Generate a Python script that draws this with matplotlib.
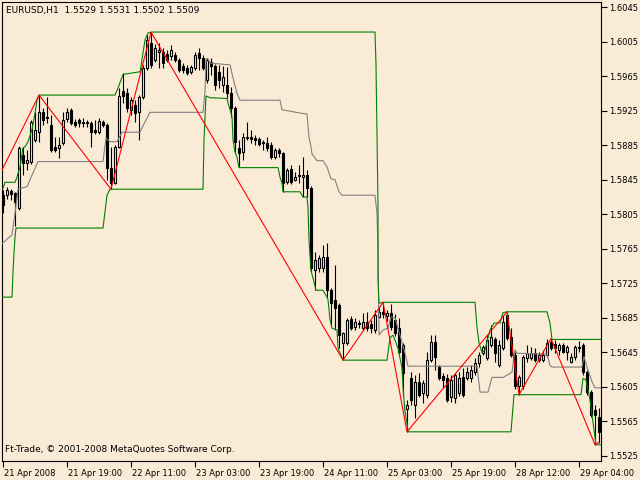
import matplotlib
matplotlib.use('Agg')
import matplotlib.pyplot as plt
import matplotlib.transforms as mtransforms

# EURUSD H1 - bougies (index de barre = position)
opens = [1.5827, 1.5827, 1.5832, 1.5830, 1.5812, 1.5874, 1.5864, 1.5865, 1.5891, 1.5900,
         1.5923, 1.5918, 1.5908, 1.5883, 1.5882, 1.5887, 1.5915, 1.5926, 1.5912, 1.5914,
         1.5911, 1.5911, 1.5911, 1.5903, 1.5900, 1.5912, 1.5908, 1.5859, 1.5841, 1.5883,
         1.5948, 1.5945, 1.5926, 1.5932, 1.5923, 1.5941, 1.5974, 1.6003, 1.5984, 1.5993,
         1.5993, 1.5991, 1.5988, 1.5989, 1.5984, 1.5977, 1.5974, 1.5970, 1.5974, 1.5992,
         1.5986, 1.5960, 1.5981, 1.5977, 1.5970, 1.5955, 1.5955, 1.5945, 1.5928, 1.5882,
         1.5877, 1.5893, 1.5894, 1.5893, 1.5892, 1.5889, 1.5887, 1.5885, 1.5871, 1.5879,
         1.5876, 1.5842, 1.5857, 1.5845, 1.5850, 1.5848, 1.5850, 1.5835, 1.5740, 1.5743,
         1.5743, 1.5755, 1.5717, 1.5706, 1.5700, 1.5656, 1.5656, 1.5684, 1.5674, 1.5679,
         1.5673, 1.5680, 1.5678, 1.5671, 1.5686, 1.5692, 1.5687, 1.5691, 1.5683, 1.5673,
         1.5654, 1.5579, 1.5615, 1.5584, 1.5611, 1.5598, 1.5596, 1.5636, 1.5657, 1.5628,
         1.5618, 1.5615, 1.5593, 1.5592, 1.5598, 1.5616, 1.5615, 1.5615, 1.5622, 1.5633,
         1.5644, 1.5639, 1.5654, 1.5660, 1.5630, 1.5650, 1.5688, 1.5663, 1.5642, 1.5606,
         1.5606, 1.5639, 1.5639, 1.5644, 1.5636, 1.5636, 1.5642, 1.5657, 1.5655, 1.5648,
         1.5654, 1.5646, 1.5634, 1.5640, 1.5650, 1.5654, 1.5622, 1.5599, 1.5578, 1.5570]
highs = [1.5833, 1.5837, 1.5834, 1.5831, 1.5884, 1.5883, 1.5879, 1.5914, 1.5923, 1.5943,
         1.5928, 1.5941, 1.5920, 1.5894, 1.5894, 1.5923, 1.5928, 1.5928, 1.5915, 1.5916,
         1.5916, 1.5914, 1.5913, 1.5914, 1.5916, 1.5914, 1.5911, 1.5883, 1.5885, 1.5951,
         1.5968, 1.5951, 1.5941, 1.5937, 1.5943, 1.5978, 1.6013, 1.6016, 1.6002, 1.6003,
         1.5998, 1.5995, 1.6001, 1.5993, 1.5986, 1.5980, 1.5978, 1.5978, 1.5993, 1.5998,
         1.5989, 1.5986, 1.5986, 1.5979, 1.5978, 1.5977, 1.5976, 1.5952, 1.5930, 1.5891,
         1.5899, 1.5912, 1.5903, 1.5897, 1.5894, 1.5891, 1.5894, 1.5889, 1.5882, 1.5882,
         1.5877, 1.5859, 1.5862, 1.5854, 1.5862, 1.5871, 1.5856, 1.5838, 1.5761, 1.5758,
         1.5769, 1.5772, 1.5720, 1.5746, 1.5702, 1.5669, 1.5685, 1.5687, 1.5685, 1.5683,
         1.5691, 1.5692, 1.5683, 1.5694, 1.5699, 1.5703, 1.5694, 1.5701, 1.5689, 1.5685,
         1.5656, 1.5590, 1.5622, 1.5619, 1.5621, 1.5613, 1.5646, 1.5665, 1.5665, 1.5630,
         1.5621, 1.5620, 1.5619, 1.5621, 1.5622, 1.5627, 1.5628, 1.5630, 1.5639, 1.5646,
         1.5654, 1.5665, 1.5677, 1.5663, 1.5659, 1.5688, 1.5692, 1.5673, 1.5646, 1.5619,
         1.5642, 1.5654, 1.5651, 1.5650, 1.5646, 1.5648, 1.5660, 1.5661, 1.5659, 1.5656,
         1.5656, 1.5654, 1.5644, 1.5654, 1.5658, 1.5656, 1.5625, 1.5602, 1.5584, 1.5581]
lows = [1.5806, 1.5823, 1.5821, 1.5791, 1.5810, 1.5850, 1.5856, 1.5863, 1.5889, 1.5889,
        1.5908, 1.5911, 1.5877, 1.5877, 1.5870, 1.5885, 1.5912, 1.5908, 1.5906, 1.5906,
        1.5906, 1.5906, 1.5883, 1.5898, 1.5898, 1.5906, 1.5845, 1.5834, 1.5840, 1.5882,
        1.5934, 1.5923, 1.5920, 1.5912, 1.5891, 1.5938, 1.5972, 1.5974, 1.5981, 1.5974,
        1.5974, 1.5981, 1.5984, 1.5981, 1.5970, 1.5968, 1.5966, 1.5967, 1.5972, 1.5972,
        1.5972, 1.5957, 1.5966, 1.5949, 1.5951, 1.5947, 1.5940, 1.5918, 1.5877, 1.5860,
        1.5868, 1.5891, 1.5887, 1.5885, 1.5884, 1.5879, 1.5878, 1.5869, 1.5869, 1.5871,
        1.5831, 1.5840, 1.5840, 1.5843, 1.5841, 1.5825, 1.5825, 1.5738, 1.5717, 1.5738,
        1.5738, 1.5709, 1.5677, 1.5671, 1.5650, 1.5636, 1.5654, 1.5671, 1.5671, 1.5673,
        1.5671, 1.5670, 1.5668, 1.5668, 1.5685, 1.5685, 1.5681, 1.5671, 1.5664, 1.5643,
        1.5596, 1.5553, 1.5584, 1.5569, 1.5593, 1.5586, 1.5592, 1.5634, 1.5625, 1.5613,
        1.5604, 1.5588, 1.5588, 1.5586, 1.5594, 1.5593, 1.5613, 1.5611, 1.5619, 1.5628,
        1.5642, 1.5636, 1.5651, 1.5634, 1.5628, 1.5648, 1.5659, 1.5640, 1.5603, 1.5596,
        1.5603, 1.5634, 1.5636, 1.5634, 1.5634, 1.5634, 1.5640, 1.5648, 1.5644, 1.5642,
        1.5644, 1.5636, 1.5633, 1.5636, 1.5646, 1.5619, 1.5596, 1.5570, 1.5538, 1.5540]
closes = [1.5816, 1.5833, 1.5828, 1.5819, 1.5882, 1.5864, 1.5868, 1.5912, 1.5903, 1.5923,
          1.5914, 1.5916, 1.5879, 1.5879, 1.5885, 1.5914, 1.5923, 1.5911, 1.5908, 1.5911,
          1.5912, 1.5912, 1.5900, 1.5900, 1.5913, 1.5908, 1.5859, 1.5841, 1.5883, 1.5942,
          1.5942, 1.5928, 1.5937, 1.5922, 1.5941, 1.5974, 1.6007, 1.5978, 1.5998, 1.5995,
          1.5980, 1.5984, 1.5995, 1.5984, 1.5972, 1.5972, 1.5968, 1.5976, 1.5989, 1.5986,
          1.5974, 1.5984, 1.5977, 1.5955, 1.5960, 1.5964, 1.5945, 1.5928, 1.5889, 1.5876,
          1.5894, 1.5894, 1.5892, 1.5891, 1.5886, 1.5887, 1.5882, 1.5871, 1.5879, 1.5876,
          1.5841, 1.5856, 1.5842, 1.5848, 1.5849, 1.5850, 1.5835, 1.5743, 1.5752, 1.5754,
          1.5755, 1.5717, 1.5702, 1.5696, 1.5665, 1.5667, 1.5683, 1.5673, 1.5680, 1.5678,
          1.5680, 1.5673, 1.5673, 1.5688, 1.5692, 1.5689, 1.5691, 1.5674, 1.5668, 1.5645,
          1.5621, 1.5584, 1.5590, 1.5611, 1.5596, 1.5610, 1.5636, 1.5657, 1.5640, 1.5615,
          1.5613, 1.5590, 1.5613, 1.5619, 1.5615, 1.5596, 1.5622, 1.5625, 1.5633, 1.5642,
          1.5651, 1.5659, 1.5663, 1.5644, 1.5654, 1.5680, 1.5662, 1.5642, 1.5606, 1.5616,
          1.5640, 1.5644, 1.5644, 1.5636, 1.5642, 1.5642, 1.5656, 1.5650, 1.5650, 1.5654,
          1.5646, 1.5651, 1.5640, 1.5651, 1.5651, 1.5622, 1.5599, 1.5573, 1.5573, 1.5553]

# ZigZag (rouge)
zz_bars = [-1, 9, 27, 37, 85, 95, 101, 126, 129, 137, 148, 149]
zz_prices = [1.5849, 1.5943, 1.5834, 1.6016, 1.5636, 1.5703, 1.5553, 1.5692, 1.5596, 1.5661, 1.5538, 1.5541]

# ligne verte haute
up_bars = [-0.75, 0, 0.5, 3, 3.5, 4.25, 5, 5.5, 6.25, 7.25, 8, 8.5, 9, 28, 28.75, 30, 34.25, 34.75,
           35.5, 36.25, 37.25, 93, 93.25, 93.5, 93.75, 93.75, 94, 95, 118, 118.5, 119, 119.75, 120.5,
           121.75, 122.75, 124.25, 125, 126, 136, 136.75, 137.25, 149.5]
up_prices = [1.5835, 1.5835, 1.5842, 1.5842, 1.5848, 1.5860, 1.5882, 1.5883, 1.5889, 1.5903, 1.5922,
             1.5937, 1.5943, 1.5943, 1.5951, 1.5967, 1.5970, 1.5984, 1.6007, 1.6015, 1.6016, 1.6016,
             1.5978, 1.5897, 1.5816, 1.5729, 1.5702, 1.5703, 1.5703, 1.5674, 1.5656, 1.5645, 1.5648,
             1.5671, 1.5679, 1.5679, 1.5691, 1.5692, 1.5692, 1.5679, 1.5660, 1.5660]

# ligne verte basse
lo_bars = [-0.75, 2.25, 2.5, 2.75, 3, 3.25, 25, 25.5, 26, 26.75, 50, 50.25, 50.75, 51.75, 56, 56.25,
           57.25, 57.5, 58, 58.5, 59, 68.75, 69.25, 69.75, 70, 74.25, 75, 76, 76.25, 76.5, 77, 78.25,
           80, 81, 81.25, 81.75, 82.25, 83.5, 83.75, 85, 96, 96.75, 97.5, 98, 98.75, 99.75, 100,
           100.5, 101, 101.25, 127, 127.75, 144.5, 145, 145.75, 146.75, 147.5, 148.25, 149.5]
lo_prices = [1.5709, 1.5709, 1.5738, 1.5760, 1.5778, 1.5789, 1.5789, 1.5808, 1.5827, 1.5834, 1.5834,
             1.5891, 1.5942, 1.5940, 1.5939, 1.5934, 1.5918, 1.5891, 1.5877, 1.5871, 1.5859, 1.5859,
             1.5848, 1.5841, 1.5831, 1.5831, 1.5825, 1.5825, 1.5813, 1.5775, 1.5740, 1.5717, 1.5717,
             1.5709, 1.5706, 1.5683, 1.5673, 1.5671, 1.5650, 1.5636, 1.5636, 1.5662, 1.5665, 1.5659,
             1.5650, 1.5627, 1.5604, 1.5576, 1.5563, 1.5553, 1.5553, 1.5596, 1.5596, 1.5615, 1.5613,
             1.5590, 1.5564, 1.5538, 1.5538]

# ligne grise
gr_bars = [-0.75, -0.25, 2.25, 3, 3.75, 6, 8.75, 25, 25.75, 26.75, 28.5, 29.75, 34.25, 35.5, 36.75,
           50, 50.5, 50.75, 51.25, 51.75, 56.75, 57.5, 58.5, 59.25, 69.25, 69.75, 74.5, 76, 76.5, 77,
           77.25, 78.5, 80, 81, 82, 83, 84, 84.75, 93, 93.5, 93.75, 94, 95, 96.25, 97, 98, 98.75,
           100.5, 101.25, 118.5, 119.25, 121.25, 122.25, 125, 127.25, 128, 128.5, 136, 136.75, 137.25,
           144.75, 145.25, 146, 147.25, 148, 149.5]
gr_prices = [1.5771, 1.5771, 1.5781, 1.5806, 1.5834, 1.5837, 1.5866, 1.5866, 1.5893, 1.5889, 1.5889,
             1.5900, 1.5900, 1.5912, 1.5923, 1.5923, 1.5947, 1.5985, 1.5985, 1.5980, 1.5978, 1.5963,
             1.5945, 1.5937, 1.5937, 1.5926, 1.5922, 1.5921, 1.5894, 1.5883, 1.5875, 1.5867, 1.5867,
             1.5860, 1.5846, 1.5845, 1.5831, 1.5827, 1.5827, 1.5806, 1.5767, 1.5665, 1.5671, 1.5673,
             1.5686, 1.5685, 1.5673, 1.5644, 1.5629, 1.5629, 1.5599, 1.5599, 1.5616, 1.5616, 1.5622,
             1.5648, 1.5644, 1.5643, 1.5630, 1.5628, 1.5628, 1.5640, 1.5628, 1.5611, 1.5604, 1.5604]

# axes
date_ticks = [0, 16, 32, 48, 64, 80, 96, 112, 128, 144]
date_labels = ['21 Apr 2008', '21 Apr 19:00', '22 Apr 11:00', '23 Apr 03:00', '23 Apr 19:00',
               '24 Apr 11:00', '25 Apr 03:00', '25 Apr 19:00', '28 Apr 12:00', '29 Apr 04:00']
price_ticks = [1.5525, 1.5565, 1.5605, 1.5645, 1.5685, 1.5725, 1.5765, 1.5805, 1.5845,
               1.5885, 1.5925, 1.5965, 1.6005, 1.6045]

bg = '#FAEBD7'
fig = plt.figure(figsize=(6.4, 4.8), dpi=100, facecolor=bg)
ax = fig.add_axes([2 / 640, 19 / 480, 599 / 640, 459 / 480], facecolor=bg)

x = list(range(len(opens)))

# mèches
ax.vlines(x, lows, highs, color='black', lw=0.8, zorder=2)

# corps
bottoms = [min(o, c) for o, c in zip(opens, closes)]
heights = [abs(c - o) for o, c in zip(opens, closes)]
faces = [bg if c >= o else 'black' for o, c in zip(opens, closes)]
ax.bar(x, heights, bottom=bottoms, width=0.6, color=faces, edgecolor='black', linewidth=0.8, zorder=3)

# indicateurs
ax.plot(gr_bars, gr_prices, color='#808080', lw=0.8, zorder=4)
ax.plot(up_bars, up_prices, color='#008000', lw=0.8, zorder=5)
ax.plot(lo_bars, lo_prices, color='#008000', lw=0.8, zorder=5)
ax.plot(zz_bars, zz_prices, color='#FF0000', lw=0.8, zorder=6)

ax.set_xlim(-0.25, 149.5)
ax.set_ylim(1.55192, 1.60508)

ax.yaxis.tick_right()
ax.set_yticks(price_ticks)
ax.set_yticklabels(['%.4f' % p for p in price_ticks])
ax.set_xticks(date_ticks)
ax.set_xticklabels(date_labels, ha='left')
ax.tick_params(axis='both', length=4, width=0.8, pad=2, labelsize=6, colors='black')
offset = mtransforms.ScaledTranslation(1 / 100, 0, fig.dpi_scale_trans)
for lbl in ax.get_xticklabels():
    lbl.set_transform(lbl.get_transform() + offset)

for s in ax.spines.values():
    s.set_color('black')
    s.set_linewidth(0.8)

fig.text(6 / 640, 1 - 11 / 480, 'EURUSD,H1  1.5529 1.5531 1.5502 1.5509', fontsize=6.5,
         va='center', ha='left', color='black')
fig.text(5 / 640, 1 - 449 / 480, 'Ft-Trade, © 2001-2008 MetaQuotes Software Corp.', fontsize=6.5,
         va='center', ha='left', color='black')

plt.savefig('out.png', dpi=100, facecolor=bg)
